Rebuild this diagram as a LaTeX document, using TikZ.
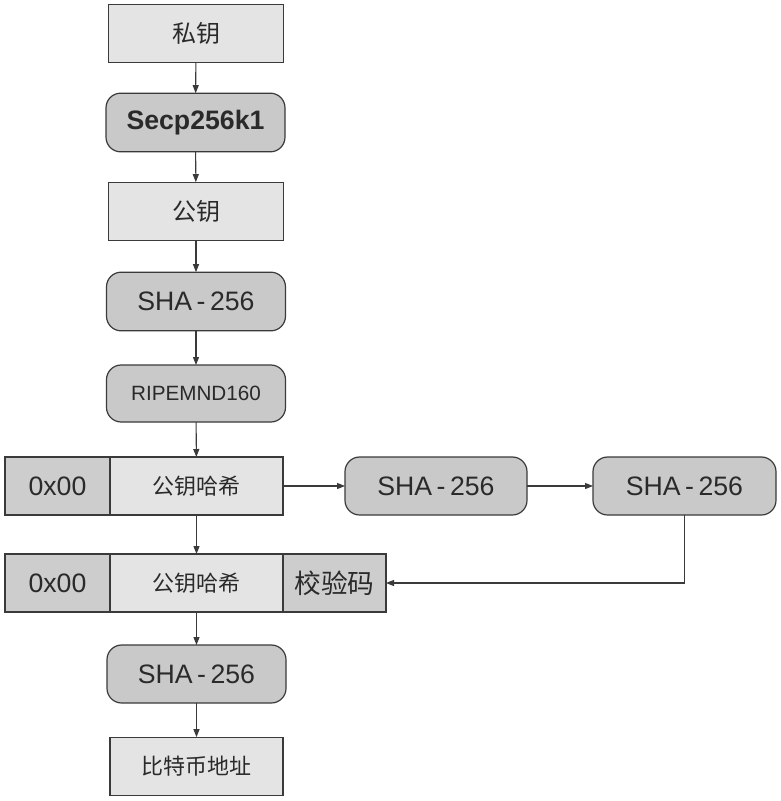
\documentclass[tikz,border=0pt]{standalone}
\usepackage{fontspec}
\setmainfont{Liberation Sans}
\newfontfamily\cjk{Noto Sans CJK SC}
\usepackage{tikz}
\usetikzlibrary{arrows.meta,positioning,calc}
\usepackage{xcolor}
\definecolor{edge}{HTML}{3A3A3A}
\definecolor{ink}{HTML}{2A2A2A}
\definecolor{lightbox}{HTML}{E4E4E4}
\definecolor{darkbox}{HTML}{C9C9C9}
\definecolor{prefix}{HTML}{CDCDCD}

\begin{document}
\begin{tikzpicture}[x=0.75pt, y=-0.75pt, >={Triangle[length=6pt,width=4.5pt]},
  databox/.style={draw=edge, fill=lightbox, line width=0.9pt, text=ink, inner sep=0pt, outer sep=0pt,
    minimum height=44pt},
  hashbox/.style={draw=edge, fill=darkbox, line width=0.9pt, text=ink, rounded corners=11pt,
    inner sep=0pt, outer sep=0pt, minimum height=44pt},
  cellbox/.style={databox, minimum height=43.5pt},
  link/.style={->, line width=0.8pt, edge}]
  \useasboundingbox (0,0) rectangle (781,801);

  % main column
  \node[databox, minimum width=131.25pt, font=\cjk\fontsize{18}{20}\selectfont] (priv) at (196,33.5) {私钥};
  \node[hashbox, minimum width=134.25pt, font=\bfseries\fontsize{20}{22}\selectfont] (secp) at (195.5,122.5) {Secp256k1};
  \node[databox, minimum width=131.25pt, font=\cjk\fontsize{18}{20}\selectfont] (pub) at (196,211.5) {公钥};
  \node[hashbox, minimum width=134.25pt, font=\fontsize{20}{22}\selectfont] (shaA) at (196,301.5) {SHA\,-\,256};
  \node[hashbox, minimum width=134.25pt, minimum height=42.75pt, font=\fontsize{15.5}{18}\selectfont] (ripe) at (196,393.5) {RIPEMND160};

  % first row: prefix + hash
  \node[cellbox, fill=prefix, minimum width=78.75pt, font=\fontsize{20}{22}\selectfont] (preA) at (57.5,486) {0x00};
  \node[cellbox, minimum width=129.75pt, font=\cjk\fontsize{16.5}{19}\selectfont] (hashA) at (196.5,486) {公钥哈希};

  % double hash on the right
  \node[hashbox, minimum width=136.5pt, minimum height=43.5pt, font=\fontsize{20}{22}\selectfont] (shaB) at (436,486) {SHA\,-\,256};
  \node[hashbox, minimum width=137.25pt, minimum height=43.5pt, font=\fontsize{20}{22}\selectfont] (shaC) at (684.5,486) {SHA\,-\,256};

  % second row: prefix + hash + checksum
  \node[cellbox, fill=prefix, minimum width=78.75pt, font=\fontsize{20}{22}\selectfont] (preB) at (57.5,583) {0x00};
  \node[cellbox, minimum width=129.75pt, font=\cjk\fontsize{16.5}{19}\selectfont] (hashB) at (196.5,583) {公钥哈希};
  \node[cellbox, fill=prefix, minimum width=77.25pt, font=\cjk\fontsize{20}{22}\selectfont] (chk) at (334.5,583) {校验码};

  \node[hashbox, minimum width=134.25pt, minimum height=43.5pt, font=\fontsize{20}{22}\selectfont] (shaD) at (196.5,674) {SHA\,-\,256};
  \node[databox, minimum width=129.75pt, font=\cjk\fontsize{16.5}{19}\selectfont] (addr) at (196.5,766.5) {比特币地址};

  \draw[link] (priv) -- (secp);
  \draw[link] (secp) -- (pub);
  \draw[link] (pub) -- (shaA);
  \draw[link] (shaA) -- (ripe);
  \draw[link] (ripe) -- (hashA);
  \draw[link] (hashA) -- (shaB);
  \draw[link] (shaB) -- (shaC);
  \draw[link] (shaC.south) |- (chk.east);
  \draw[link] (hashA) -- (hashB);
  \draw[link] (hashB) -- (shaD);
  \draw[link] (shaD) -- (addr);
\end{tikzpicture}
\end{document}
